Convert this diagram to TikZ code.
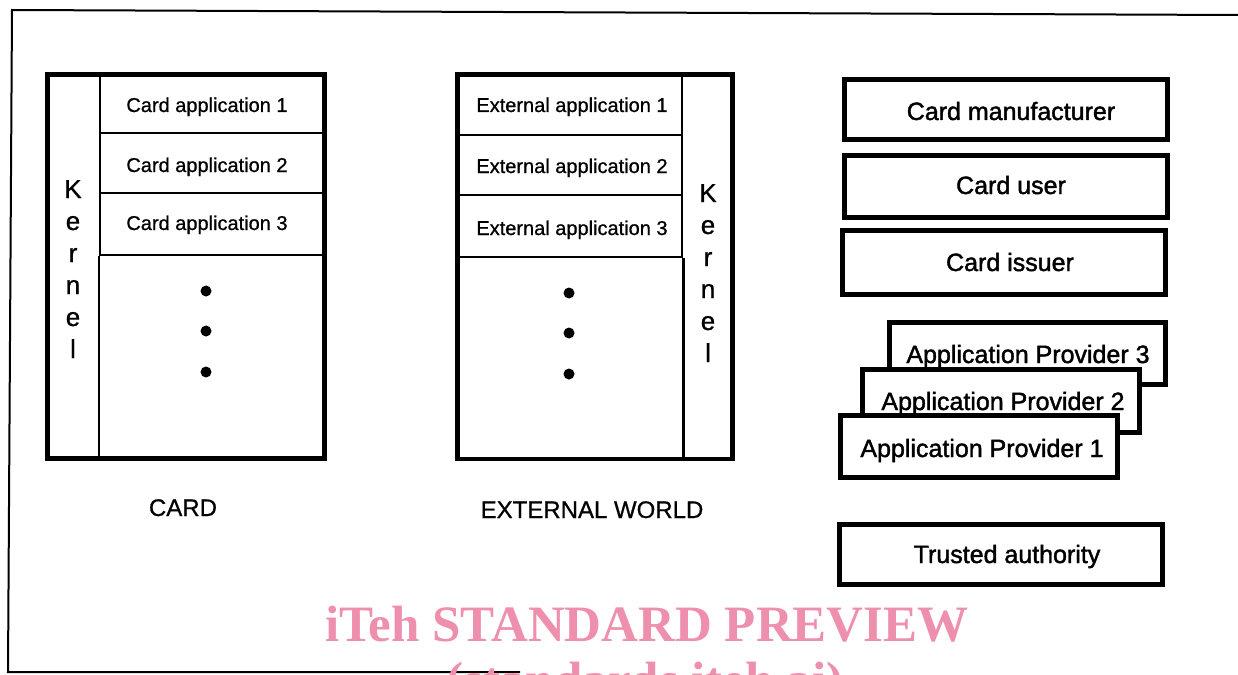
\documentclass[tikz,border=0pt]{standalone}
\usepackage{fontspec}
\setmainfont{Liberation Sans}
\newfontfamily\scanlight{Liberation Sans}[FakeBold=0.8]
\newfontfamily\scanheavy{Liberation Sans}[FakeBold=1.6]
\newfontfamily\wmfont{Liberation Serif}
\definecolor{wmpink}{RGB}{238,144,173}
\tikzset{
  thickbox/.style={draw, line width=4.5pt, inner sep=0pt},
  cellbox/.style={draw, line width=2.5pt, inner sep=0pt},
  cellline/.style={line width=2.5pt},
  apptext/.style={anchor=base, font=\scanlight\fontsize{20}{24}\selectfont, inner sep=0pt},
  kerneltext/.style={anchor=base, font=\scanlight\fontsize{26}{30}\selectfont, inner sep=0pt},
  captext/.style={anchor=base, font=\scanlight\fontsize{24}{28}\selectfont, inner sep=0pt},
  rolebox/.style={draw, line width=5pt, fill=white, inner sep=0pt},
  roletext/.style={anchor=base, font=\scanheavy\fontsize{25}{30}\selectfont, inner sep=0pt},
  dotmark/.style={circle, fill=black, inner sep=0pt, minimum size=11pt},
  wm/.style={anchor=base, text=wmpink, font=\wmfont\bfseries\fontsize{51}{60}\selectfont, inner sep=0pt},
  frameline/.style={line width=2pt}
}
\begin{document}
\begin{tikzpicture}[x=1pt,y=-1pt]
\useasboundingbox (0,0) rectangle (1238,674);
\clip (0,0) rectangle (1238,674);
% outer frame
\coordinate (ftl) at (12,10);
\coordinate (ftr) at (1238,15);
\coordinate (fbl) at (8,672);
\coordinate (fbr) at (520,672);
\draw[frameline] (ftr) -- (ftl) -- (fbl) -- (fbr);

% ---------------- CARD ----------------
\node[cellbox, minimum width=224.5pt, minimum height=58.5pt] (ca1) at (212.25,103.75) {};
\node[cellbox, minimum width=224.5pt, minimum height=60pt] (ca2) at (212.25,163) {};
\node[cellbox, minimum width=224.5pt, minimum height=62pt] (ca3) at (212.25,224) {};
\node[thickbox, minimum width=277pt, minimum height=384pt] (card) at (186,266.5) {};
\draw[cellline] (ca3.south west) -- (ca3.south west |- card.south);
\node[apptext] (ta1) at (207,112) {Card application 1};
\node[apptext] (ta2) at (207,172) {Card application 2};
\node[apptext] (ta3) at (207,230) {Card application 3};
\foreach \c [count=\i] in {K,e,r,n,e,l} {
  \node[kerneltext] (kc\i) at (73,{198+32*(\i-1)}) {\c};
}
\node[dotmark] (cd1) at (206,291) {};
\node[dotmark] (cd2) at (206,331) {};
\node[dotmark] (cd3) at (206,372) {};
\node[captext] (cardlabel) at (183,516) {CARD};

% ---------------- EXTERNAL WORLD ----------------
\node[cellbox, minimum width=224.5pt, minimum height=60.5pt] (ea1) at (569.75,104.75) {};
\node[cellbox, minimum width=224.5pt, minimum height=60pt] (ea2) at (569.75,165) {};
\node[cellbox, minimum width=224.5pt, minimum height=62pt] (ea3) at (569.75,226) {};
\node[thickbox, minimum width=275pt, minimum height=384.5pt] (ext) at (595,266.75) {};
\draw[cellline] (ea3.south east) -- (ea3.south east |- ext.south);
\node[apptext] (te1) at (572,112) {External application 1};
\node[apptext] (te2) at (572,173) {External application 2};
\node[apptext] (te3) at (572,235) {External application 3};
\foreach \c [count=\i] in {K,e,r,n,e,l} {
  \node[kerneltext] (ke\i) at (708,{202+32*(\i-1)}) {\c};
}
\node[dotmark] (ed1) at (569,293) {};
\node[dotmark] (ed2) at (569,333) {};
\node[dotmark] (ed3) at (569,374) {};
\node[captext] (extlabel) at (592,518) {EXTERNAL WORLD};

% ---------------- ROLES ----------------
\node[rolebox, minimum width=323pt, minimum height=60pt] (manu) at (1006,109.5) {};
\node[roletext] (manut) at (1011,120) {Card manufacturer};
\node[rolebox, minimum width=323pt, minimum height=62pt] (user) at (1006,186.5) {};
\node[roletext] (usert) at (1011,194) {Card user};
\node[rolebox, minimum width=323pt, minimum height=64pt] (issuer) at (1004,262.5) {};
\node[roletext] (issuert) at (1010,271) {Card issuer};
\node[rolebox, minimum width=276pt, minimum height=62pt] (ap3) at (1027.5,353.5) {};
\node[roletext] (ap3t) at (1028,363) {Application Provider 3};
\node[rolebox, minimum width=277pt, minimum height=63pt] (ap2) at (1001,401) {};
\node[roletext] (ap2t) at (1003,410) {Application Provider 2};
\node[rolebox, minimum width=277pt, minimum height=62pt] (ap1) at (979,446.5) {};
\node[roletext] (ap1t) at (982,457) {Application Provider 1};
\node[rolebox, minimum width=323pt, minimum height=60pt] (trust) at (1001,554.5) {};
\node[roletext] (trustt) at (1007,563) {Trusted authority};

% ---------------- watermark ----------------
\node[wm] (wm1) at (647,641) {iTeh STANDARD PREVIEW};
\node[wm] (wm2) at (645,697) {(standards.iteh.ai)};
\end{tikzpicture}
\end{document}
